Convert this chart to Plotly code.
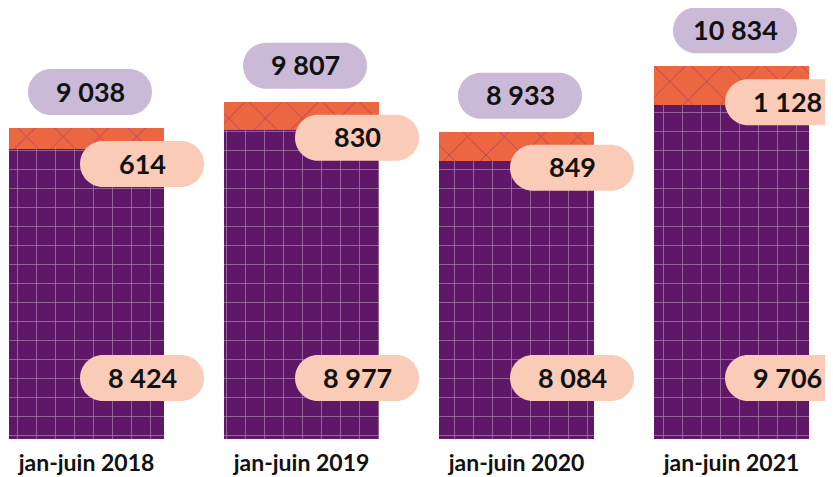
import plotly.graph_objects as go

categories = ["jan-juin 2018", "jan-juin 2019", "jan-juin 2020", "jan-juin 2021"]
base_values = [8424, 8977, 8084, 9706]
top_values = [614, 830, 849, 1128]
totals = [b + t for b, t in zip(base_values, top_values)]

PURPLE = "#5F1767"
ORANGE = "#EC6642"
LAVENDER = "#CBBAD7"
PEACH = "#FACBB6"
FONT = "Lato"

W, H = 833, 469          # page adds an 8px body margin
STEP = 215               # px per category
FIRST = 78.5             # px of first bar centre inside the figure
PLOT_H = 431             # px of plot area height
PX_PER_UNIT = 0.0344

def fmt(v):
    return f"{v:,}".replace(",", " ")

def pill_path(cx, cy, w=124, h=46):
    r = h / 2
    c = 0.5523 * r
    x0, x1 = cx - w / 2, cx + w / 2
    y0, y1 = cy - r, cy + r
    return (f"M{x0 + r},{y0} L{x1 - r},{y0} "
            f"C{x1 - r + c},{y0} {x1},{cy - c} {x1},{cy} "
            f"C{x1},{cy + c} {x1 - r + c},{y1} {x1 - r},{y1} "
            f"L{x0 + r},{y1} "
            f"C{x0 + r - c},{y1} {x0},{cy + c} {x0},{cy} "
            f"C{x0},{cy - c} {x0 + r - c},{y0} {x0 + r},{y0} Z")

fig = go.Figure()
fig.add_trace(go.Bar(
    x=categories, y=base_values,
    marker=dict(color=PURPLE, line=dict(width=0),
                pattern=dict(shape="+", fillmode="replace", bgcolor=PURPLE,
                             fgcolor="#ffffff", fgopacity=0.42, size=19, solidity=0.08)),
    hoverinfo="skip",
))
fig.add_trace(go.Bar(
    x=categories, y=top_values,
    marker=dict(color=ORANGE, line=dict(width=0),
                pattern=dict(shape="x", fillmode="replace", bgcolor=ORANGE,
                             fgcolor="#7A2A78", fgopacity=0.6, size=26, solidity=0.06)),
    hoverinfo="skip",
))

numfont = dict(family=FONT, size=27, color="#111111", weight="bold")
shapes = []
annotations = []
for cat, b, t, tot in zip(categories, base_values, top_values, totals):
    shapes.append(dict(type="path", xref="x", yref="y", xsizemode="pixel", ysizemode="pixel",
                       xanchor=cat, yanchor=tot, path=pill_path(3.5, 36),
                       fillcolor=LAVENDER, line=dict(width=0), layer="above"))
    annotations.append(dict(x=cat, y=tot, xref="x", yref="y", text=fmt(tot), showarrow=False,
                            xshift=3.5, yshift=37, font=numfont))
    shapes.append(dict(type="path", xref="x", yref="y", xsizemode="pixel", ysizemode="pixel",
                       xanchor=cat, yanchor=tot, path=pill_path(55.5, -36),
                       fillcolor=PEACH, line=dict(width=0), layer="above"))
    annotations.append(dict(x=cat, y=tot, xref="x", yref="y", text=fmt(t), showarrow=False,
                            xshift=55.5, yshift=-35, font=numfont))
    shapes.append(dict(type="path", xref="x", yref="y", xsizemode="pixel", ysizemode="pixel",
                       xanchor=cat, yanchor=0, path=pill_path(55.5, 61),
                       fillcolor=PEACH, line=dict(width=0), layer="above"))
    annotations.append(dict(x=cat, y=0, xref="x", yref="y", text=fmt(b), showarrow=False,
                            xshift=55.5, yshift=62, font=numfont))

fig.update_layout(
    width=W, height=H,
    margin=dict(l=0, r=0, t=0, b=H - PLOT_H),
    barmode="stack", bargap=0.279,
    showlegend=False,
    plot_bgcolor="white", paper_bgcolor="white",
    shapes=shapes, annotations=annotations,
    xaxis=dict(range=[-FIRST / STEP, (W - FIRST) / STEP], showgrid=False, zeroline=False,
               showline=False, ticks="", ticklabelstandoff=8,
               tickfont=dict(family=FONT, size=23, color="#111111", weight="bold")),
    yaxis=dict(range=[0, PLOT_H / PX_PER_UNIT], visible=False, showgrid=False, zeroline=False),
)

fig.write_html("out.html")
